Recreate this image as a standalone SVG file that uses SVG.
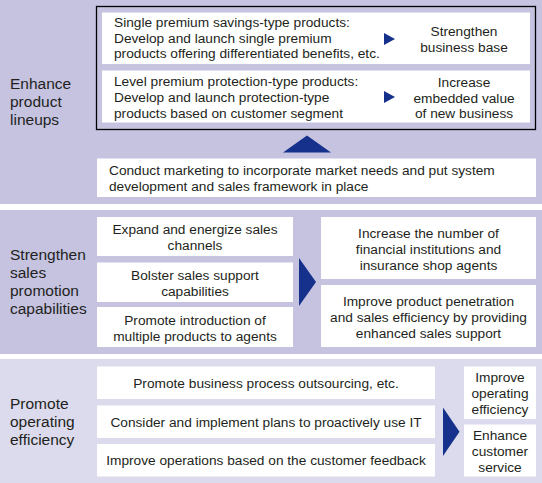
<svg xmlns="http://www.w3.org/2000/svg" width="542" height="483" viewBox="0 0 542 483">
<defs>
<style>
.band{fill:#c5c3e0}
.band3{fill:#dcdbed}
.box{fill:#ffffff}
.t{font-family:"Liberation Sans",Arial,Helvetica,sans-serif;font-size:13.7px;fill:#231f20}
.c{text-anchor:middle}
.h{font-family:"Liberation Sans",Arial,Helvetica,sans-serif;font-size:15.5px;fill:#231f20}
.arr{fill:#16318c}
</style>
</defs>
<rect width="542" height="483" fill="#ffffff"/>
<g id="band1">
<rect class="band" x="0" y="0" width="542" height="204"/>
<text class="h" x="10"><tspan x="10" y="89">Enhance</tspan><tspan x="10" y="107">product</tspan><tspan x="10" y="125">lineups</tspan></text>
</g>
<g id="band2">
<rect class="band" x="0" y="210" width="542" height="144"/>
<text class="h"><tspan x="10" y="260">Strengthen</tspan><tspan x="10" y="278">sales</tspan><tspan x="10" y="296">promotion</tspan><tspan x="10" y="314">capabilities</tspan></text>
</g>
<g id="band3">
<rect class="band3" x="0" y="359" width="542" height="124"/>
<text class="h"><tspan x="10" y="409">Promote</tspan><tspan x="10" y="427">operating</tspan><tspan x="10" y="445">efficiency</tspan></text>
</g>
<g id="product-frame">
<rect x="96.5" y="6.5" width="439" height="123" fill="none" stroke="#000000" stroke-width="1.3"/>
</g>
<g id="single-premium">
<rect class="box" x="102" y="12.5" width="428" height="51.5"/>
<text class="t"><tspan x="114" y="26.5">Single premium savings-type products:</tspan><tspan x="114" y="42.5">Develop and launch single premium</tspan><tspan x="114" y="58">products offering differentiated benefits, etc.</tspan></text>
<text class="t c"><tspan x="464" y="36">Strengthen</tspan><tspan x="464" y="52">business base</tspan></text>
</g>
<g id="level-premium">
<rect class="box" x="102" y="70.5" width="428" height="52"/>
<text class="t"><tspan x="114" y="86">Level premium protection-type products:</tspan><tspan x="114" y="102">Develop and launch protection-type</tspan><tspan x="114" y="118">products based on customer segment</tspan></text>
<text class="t c"><tspan x="464" y="86.5">Increase</tspan><tspan x="464" y="102.5">embedded value</tspan><tspan x="464" y="118">of new business</tspan></text>
</g>
<g id="marketing">
<rect class="box" x="97" y="158.5" width="439" height="38.5"/>
<text class="t"><tspan x="109" y="175">Conduct marketing to incorporate market needs and put system</tspan><tspan x="109" y="191">development and sales framework in place</tspan></text>
</g>
<g id="expand">
<rect class="box" x="97" y="217" width="196" height="39"/>
<text class="t c"><tspan x="195" y="234">Expand and energize sales</tspan><tspan x="195" y="250">channels</tspan></text>
</g>
<g id="bolster">
<rect class="box" x="97" y="262.5" width="196" height="39.5"/>
<text class="t c"><tspan x="195" y="280">Bolster sales support</tspan><tspan x="195" y="296">capabilities</tspan></text>
</g>
<g id="promote-intro">
<rect class="box" x="97" y="307" width="196" height="40"/>
<text class="t c"><tspan x="195" y="324.5">Promote introduction of</tspan><tspan x="195" y="340.5">multiple products to agents</tspan></text>
</g>
<g id="increase-number">
<rect class="box" x="321" y="217" width="215" height="62"/>
<text class="t c"><tspan x="428.5" y="238">Increase the number of</tspan><tspan x="428.5" y="254">financial institutions and</tspan><tspan x="428.5" y="270">insurance shop agents</tspan></text>
</g>
<g id="improve-penetration">
<rect class="box" x="321" y="285" width="215" height="62"/>
<text class="t c"><tspan x="428.5" y="306">Improve product penetration</tspan><tspan x="428.5" y="322">and sales efficiency by providing</tspan><tspan x="428.5" y="338">enhanced sales support</tspan></text>
</g>
<g id="bpo">
<rect class="box" x="97" y="366.5" width="338" height="32.5"/>
<text class="t c" x="266" y="388">Promote business process outsourcing, etc.</text>
</g>
<g id="use-it">
<rect class="box" x="97" y="405.5" width="338" height="32.5"/>
<text class="t c" x="266" y="426.5">Consider and implement plans to proactively use IT</text>
</g>
<g id="customer-feedback">
<rect class="box" x="97" y="444" width="338" height="32.5"/>
<text class="t c" x="266" y="465">Improve operations based on the customer feedback</text>
</g>
<g id="improve-efficiency">
<rect class="box" x="464" y="366.5" width="72" height="52.5"/>
<text class="t c"><tspan x="500" y="382">Improve</tspan><tspan x="500" y="398">operating</tspan><tspan x="500" y="414">efficiency</tspan></text>
</g>
<g id="customer-service">
<rect class="box" x="464" y="424.5" width="72" height="52"/>
<text class="t c"><tspan x="500" y="439.5">Enhance</tspan><tspan x="500" y="455.5">customer</tspan><tspan x="500" y="471.5">service</tspan></text>
</g>
<g id="connectors">
<polygon class="arr" points="384,33 384,45 395,39"/>
<polygon class="arr" points="384,91 384,103 395,97"/>
<polygon class="arr" points="283,152.5 331,152.5 307,135.5"/>
<polygon class="arr" points="299,258 299,306 316,282"/>
<polygon class="arr" points="443,407.5 443,456 459.5,431.7"/>
</g>
</svg>
